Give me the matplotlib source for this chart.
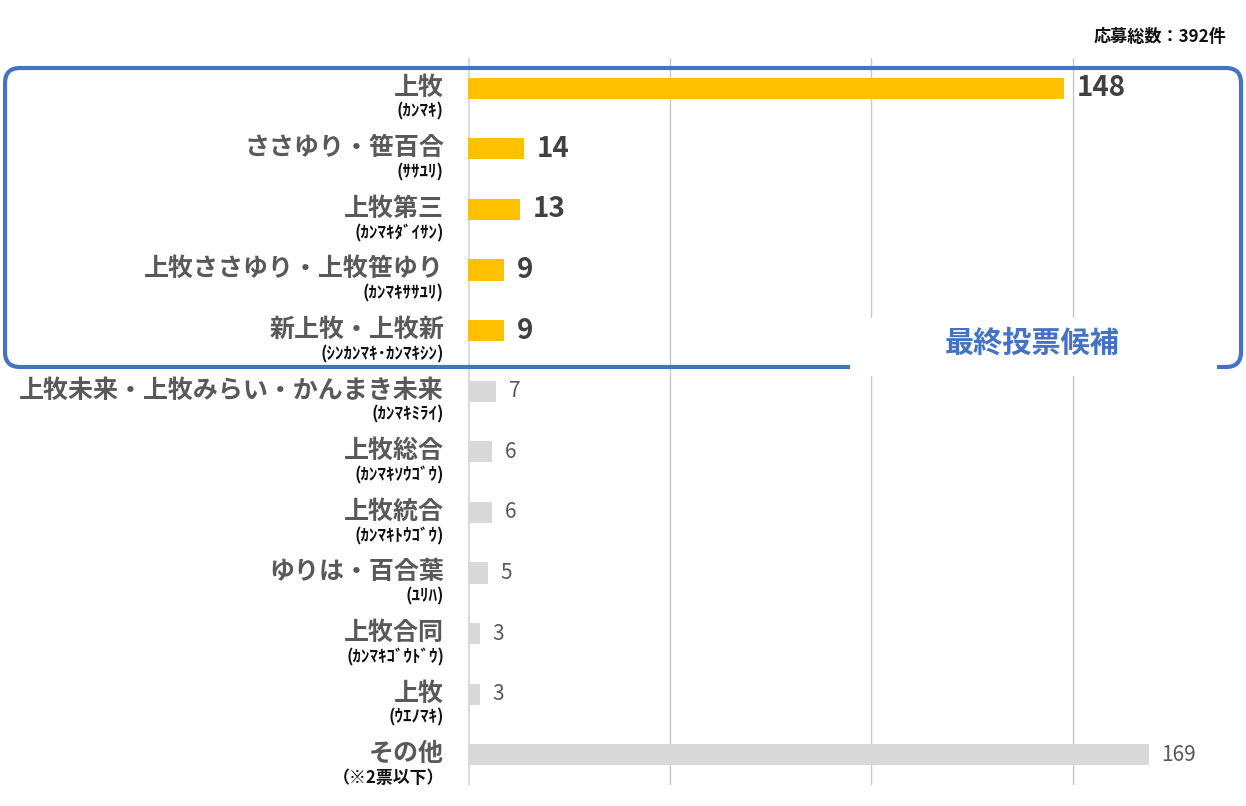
import matplotlib
matplotlib.use("Agg")
import matplotlib.pyplot as plt
from matplotlib.patches import FancyBboxPatch, Rectangle
from matplotlib.transforms import blended_transform_factory

plt.rcParams['font.family'] = ['Noto Sans CJK JP', 'DejaVu Sans']

categories = ["上牧", "ささゆり・笹百合", "上牧第三", "上牧ささゆり・上牧笹ゆり", "新上牧・上牧新",
              "上牧未来・上牧みらい・かんまき未来", "上牧総合", "上牧統合", "ゆりは・百合葉",
              "上牧合同", "上牧", "その他"]
readings = ["(ｶﾝﾏｷ)", "(ｻｻﾕﾘ)", "(ｶﾝﾏｷﾀﾞｲｻﾝ)", "(ｶﾝﾏｷｻｻﾕﾘ)", "(ｼﾝｶﾝﾏｷ･ｶﾝﾏｷｼﾝ)",
            "(ｶﾝﾏｷﾐﾗｲ)", "(ｶﾝﾏｷｿｳｺﾞｳ)", "(ｶﾝﾏｷﾄｳｺﾞｳ)", "(ﾕﾘﾊ)", "(ｶﾝﾏｷｺﾞｳﾄﾞｳ)",
            "(ｳｴﾉﾏｷ)", "（※2票以下）"]
values = [148, 14, 13, 9, 9, 7, 6, 6, 5, 3, 3, 169]
n_candidates = 5
total_label = "応募総数：392件"
box_label = "最終投票候補"

W, H = 1246, 806
fig = plt.figure(figsize=(W / 100, H / 100), dpi=100)
ax = fig.add_axes([468 / W, (H - 785) / H, (W - 468) / W, (785 - 58) / H])

gold = "#FFC000"
grey = "#D9D9D9"
colors = [gold if i < n_candidates else grey for i in range(len(values))]
ypos = list(range(len(values)))

ax.barh(ypos, values, height=0.35, color=colors, zorder=3)
ax.set_ylim(len(values) - 0.5, -0.5)
ax.set_xlim(0, (W - 468) / 4.03)
ax.set_xticks([50, 100, 150])
ax.xaxis.grid(True, color="#C8C8C8", linewidth=1, zorder=0)
ax.axvline(0, color="#D9D9D9", linewidth=2, zorder=1)
ax.set_yticks([])
ax.tick_params(axis="x", length=0, labelbottom=False)
for s in ax.spines.values():
    s.set_visible(False)

trans = blended_transform_factory(fig.transFigure, ax.transData)
for i, (c, r, v) in enumerate(zip(categories, readings, values)):
    ax.text(444 / W, i - 0.01, c, transform=trans, ha="right", va="center",
            fontsize=18, fontweight="bold", color="#595959")
    ax.text(444 / W, i + 0.39, r, transform=trans, ha="right", va="center",
            fontsize=12.2, fontweight="bold", color="#111111")
    if i < n_candidates:
        ax.annotate(str(v), (v, i), xytext=(9, 0), textcoords="offset points",
                    ha="left", va="center", fontsize=20, fontweight="bold", color="#404040")
    else:
        ax.annotate(str(v), (v, i), xytext=(9, 0), textcoords="offset points",
                    ha="left", va="center", fontsize=15, color="#595959")

# candidate box (in inches)
box = FancyBboxPatch((0.05, (H - 367) / 100), (1241 - 5) / 100, (367 - 68) / 100,
                     boxstyle="round,pad=0,rounding_size=0.15",
                     transform=fig.dpi_scale_trans, fill=False,
                     edgecolor="#4472C4", linewidth=3.0, zorder=5)
fig.patches.append(box)
cover = Rectangle((8.50, (H - 376) / 100), 12.17 - 8.50, (376 - 318) / 100,
                  transform=fig.dpi_scale_trans, facecolor="white", edgecolor="none", zorder=6)
fig.patches.append(cover)
fig.text(10.32 / 12.46, (H - 343) / H, box_label, ha="center", va="center",
         fontsize=21, fontweight="bold", color="#4472C4", zorder=7)

fig.text(1226 / W, (H - 37) / H, total_label, ha="right", va="center",
         fontsize=12.3, fontweight="bold", color="#111111")

fig.savefig("out.png", dpi=100)
